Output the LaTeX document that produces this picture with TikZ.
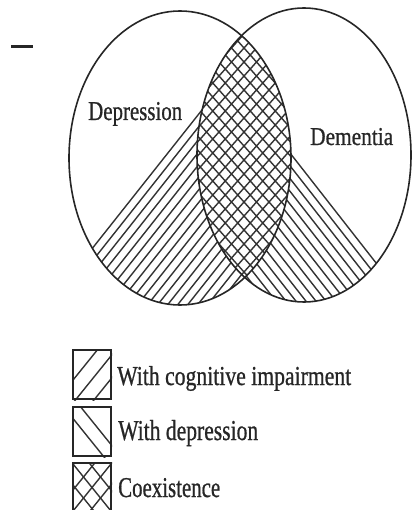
\documentclass[tikz,border=0pt]{standalone}
\usepackage{fontspec}
\setmainfont{Liberation Serif}
\newfontfamily\lblfont{Liberation Serif}[FakeBold=0.9]
\usepackage{graphicx}
\usetikzlibrary{calc}
\begin{document}
\begin{tikzpicture}[x=1pt,y=-1pt,
  outline/.style={line width=1.6pt, draw=black!85},
  hatchline/.style={line width=1.4pt, draw=black!80},
  lbl/.style={anchor=base west, inner sep=0pt, text=black!85, font=\lblfont},
  legbox/.style={draw=black!85, line width=2pt, minimum width=38pt, minimum height=49pt, inner sep=0pt, anchor=north west}]
\useasboundingbox (0,0) rectangle (412,510);
% top-left dash
\coordinate (d1) at (11,47);
\coordinate (d2) at (33,47);
\draw[line width=3pt, black!85] (d1) -- (d2);
% left wedge hatch (/)
\begin{scope}[even odd rule]
  \clip (180,158) ellipse [x radius=111pt, y radius=147pt];
  \clip (0,0) rectangle (412,510) (304,155) ellipse [x radius=107pt, y radius=147pt];
  \foreach \i in {0,...,26}
    \draw[hatchline] ({95+10*\i-103*2},{245+130*2}) -- ({95+10*\i+103*2},{245-130*2});
\end{scope}
% right wedge hatch (\)
\begin{scope}[even odd rule]
  \clip (304,155) ellipse [x radius=107pt, y radius=147pt];
  \clip (0,0) rectangle (412,510) (180,158) ellipse [x radius=111pt, y radius=147pt];
  \foreach \i in {0,...,24}
    \draw[hatchline] ({290-10*\i-90*3},{153-115*3}) -- ({290-10*\i+90*3},{153+115*3});
\end{scope}
% lens crosshatch
\begin{scope}
  \clip (180,158) ellipse [x radius=111pt, y radius=147pt];
  \clip (304,155) ellipse [x radius=107pt, y radius=147pt];
  \foreach \i in {-25,...,25} {
    \draw[hatchline] ({244+12.5*\i-100*3},{160+112*3}) -- ({244+12.5*\i+100*3},{160-112*3});
    \draw[hatchline] ({244+12.5*\i-100*3},{160-112*3}) -- ({244+12.5*\i+100*3},{160+112*3});
  }
\end{scope}
% ellipses
\node[draw=none, inner sep=0pt] (dep) at (180,158) {};
\node[draw=none, inner sep=0pt] (dem) at (304,155) {};
\draw[outline] (dep) ellipse [x radius=111pt, y radius=147pt];
\draw[outline] (dem) ellipse [x radius=107pt, y radius=147pt];
% labels
\node[lbl] (tdep) at (88,120) {\resizebox{94pt}{18pt}{Depression}};
\node[lbl] (tdem) at (310,145) {\resizebox{83pt}{17pt}{Dementia}};
% legend boxes
\node[legbox] (b1) at (72,349) {};
\node[legbox] (b2) at (72,406) {};
\node[legbox] (b3) at (72,462) {};
\begin{scope}
  \clip (b1.north west) rectangle (b1.south east);
  \foreach \k in {-14.5,4,22.5}
    \draw[hatchline] ($(b1.center)+(\k,0)+(-25,31)$) -- ++(50,-62);
\end{scope}
\begin{scope}
  \clip (b2.north west) rectangle (b2.south east);
  \foreach \k in {-8.5,8.5}
    \draw[hatchline] ($(b2.center)+(\k,0)+(-25,-31)$) -- ++(50,62);
\end{scope}
\begin{scope}
  \clip (b3.north west) rectangle (b3.south east);
  \foreach \k in {-17,0,17} {
    \draw[hatchline] ($(b3.center)+(\k,0)+(-25,31)$) -- ++(50,-62);
    \draw[hatchline] ($(b3.center)+(\k,0)+(-25,-31)$) -- ++(50,62);
  }
\end{scope}
\node[legbox] at (b1.north west) {};
\node[legbox] at (b2.north west) {};
\node[legbox] at (b3.north west) {};
% legend texts
\node[lbl] (l1) at (117,385) {\resizebox{234pt}{19pt}{With cognitive impairment}};
\node[lbl] (l2) at (118,440) {\resizebox{140pt}{20pt}{With depression}};
\node[lbl] (l3) at (118,497) {\resizebox{102pt}{19pt}{Coexistence}};
\end{tikzpicture}
\end{document}
